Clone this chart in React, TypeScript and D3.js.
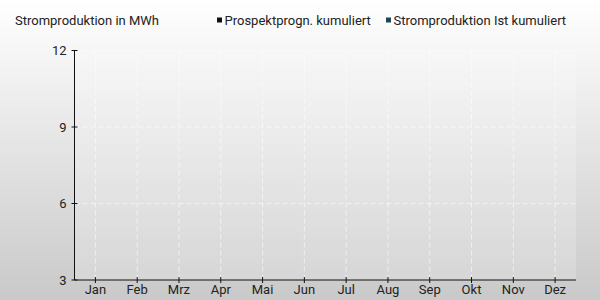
import React from "react";
import * as d3 from "d3";

const months = ["Jan", "Feb", "Mrz", "Apr", "Mai", "Jun", "Jul", "Aug", "Sep", "Okt", "Nov", "Dez"];
const prospekt: (number | null)[] = [null, null, null, null, null, null, null, null, null, null, null, null];
const ist: (number | null)[] = [null, null, null, null, null, null, null, null, null, null, null, null];
const yTicks = [3, 6, 9, 12];
const seriesNames = ["Prospektprogn. kumuliert", "Stromproduktion Ist kumuliert"];
const seriesColors = ["#111111", "#1d4556"];

const W = 600, H = 300;
const m = { left: 74.5, right: 24, top: 50.5, bottom: 20 };
const FONT = "Roboto, 'DejaVu Sans Condensed', sans-serif";

export default function App() {
  const x = d3.scaleBand<string>().domain(months).range([m.left, W - m.right]);
  const y = d3.scaleLinear().domain([3, 12]).range([H - m.bottom, m.top]);
  const inner = d3.scaleBand<number>().domain([0, 1]).range([0, x.bandwidth()]).padding(0.2);
  const series = [prospekt, ist];
  return (
    <svg width={W} height={H} style={{ position: "absolute", left: 0, top: 0, fontFamily: FONT }}>
      <defs>
        <linearGradient id="bg" x1="0" y1="0" x2="0" y2="1">
          <stop offset="0" stopColor="#ffffff" />
          <stop offset="1" stopColor="#c9c9c9" />
        </linearGradient>
      </defs>
      <rect width={W} height={H} fill="url(#bg)" />
      <rect x={m.left} y={m.top} width={W - m.right - m.left} height={H - m.bottom - m.top} fill="#ffffff" opacity={0.2} />
      {yTicks.slice(1).map((t) => (
        <line key={"gy" + t} x1={m.left} x2={W - m.right} y1={y(t)} y2={y(t)} stroke="#ffffff" strokeOpacity={0.6} strokeDasharray="5,3" />
      ))}
      {months.map((mo) => (
        <line key={"gx" + mo} x1={x(mo)! + x.bandwidth() / 2} x2={x(mo)! + x.bandwidth() / 2} y1={m.top} y2={H - m.bottom} stroke="#ffffff" strokeOpacity={0.6} strokeDasharray="5,3" />
      ))}
      {series.map((s, si) =>
        s.map((v, i) =>
          v == null ? null : (
            <rect key={si + "-" + i} x={x(months[i])! + inner(si)!} width={inner.bandwidth()} y={y(v)} height={y(3) - y(v)} fill={seriesColors[si]} />
          )
        )
      )}
      <line x1={m.left} x2={m.left} y1={m.top} y2={H - m.bottom} stroke="#111" />
      <line x1={m.left} x2={W - m.right} y1={H - m.bottom} y2={H - m.bottom} stroke="#111" />
      {yTicks.map((t) => (
        <g key={"yt" + t}>
          <line x1={m.left - 3} x2={m.left + 3} y1={y(t)} y2={y(t)} stroke="#111" />
          <text x={m.left - 8} y={y(t)} dy="0.35em" textAnchor="end" fontSize={13} fill="#222">{t}</text>
        </g>
      ))}
      {months.map((mo) => (
        <g key={"xt" + mo}>
          <line x1={x(mo)! + x.bandwidth() / 2} x2={x(mo)! + x.bandwidth() / 2} y1={H - m.bottom - 3} y2={H - m.bottom + 3} stroke="#111" />
          <text x={x(mo)! + x.bandwidth() / 2} y={294} textAnchor="middle" fontSize={13} fill="#222">{mo}</text>
        </g>
      ))}
      <text x={15} y={25} fontSize={13} fill="#222">Stromproduktion in MWh</text>
      <rect x={217} y={17.5} width={5} height={5} fill={seriesColors[0]} />
      <text x={224.5} y={25} fontSize={13} fill="#222">{seriesNames[0]}</text>
      <rect x={386} y={17.5} width={5} height={5} fill={seriesColors[1]} />
      <text x={393.5} y={25} fontSize={13} fill="#222">{seriesNames[1]}</text>
    </svg>
  );
}
